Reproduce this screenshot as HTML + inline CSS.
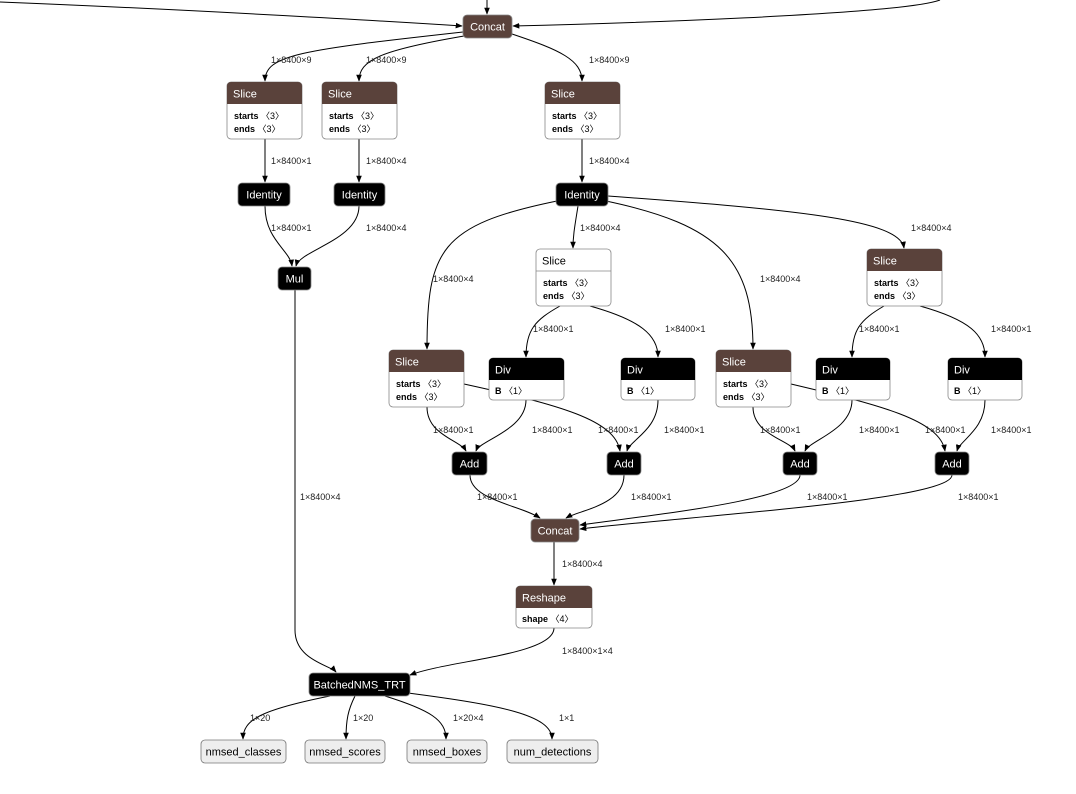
<!DOCTYPE html>
<html><head><meta charset="utf-8"><style>
body{margin:0;background:#fff}
svg{display:block}
.t{font-family:"Liberation Sans",sans-serif;font-size:11px;fill:#fff}
.l{font-family:"Liberation Sans",sans-serif;font-size:9px;fill:#222}
.a{font-family:"Liberation Sans",sans-serif;font-size:9px;fill:#000}
.e{fill:none;stroke:#000;stroke-width:1}
</style></head><body>
<svg width="1076" height="794" viewBox="0 0 1076 794" xmlns="http://www.w3.org/2000/svg">
<defs><marker id="ar" viewBox="0 0 10 10" refX="9" refY="5" markerWidth="7" markerHeight="7" orient="auto"><path d="M0,1 L10,5 L0,9 z" fill="#000"/></marker></defs>
<g class="e" marker-end="url(#ar)">
<path d="M0,2 C200,10 400,22 462,26"/>
<path d="M940,0 C900,15 600,24 513,26"/>
<path d="M487,0 L487,14"/>
<path d="M463,32 C300,50 265,55 265,81"/>
<path d="M470,35 C380,50 359,60 359,81"/>
<path d="M512,34 C560,50 582,60 582,81"/>
<path d="M265,139 L265,182"/>
<path d="M359,139 L359,182"/>
<path d="M582,139 L582,182"/>
<path d="M265,206 C265,240 290,250 292,266"/>
<path d="M359,206 C359,240 300,250 296,266"/>
<path d="M557,201 C440,225 427,250 427,349"/>
<path d="M578,206 C575,225 573,235 573,248"/>
<path d="M606,201 C720,225 753,260 753,349"/>
<path d="M608,196 C800,210 900,220 904,248"/>
<path d="M560,306 C535,320 526,330 526,357"/>
<path d="M590,306 C640,320 658,335 658,357"/>
<path d="M884,306 C860,320 852,330 852,357"/>
<path d="M920,306 C970,320 985,335 985,357"/>
<path d="M427,407 C427,435 460,440 466,451"/>
<path d="M464,384 C560,405 615,420 620,451"/>
<path d="M526,400 C526,430 480,440 476,451"/>
<path d="M658,400 C658,430 630,440 627,451"/>
<path d="M753,407 C753,435 790,440 795,451"/>
<path d="M791,384 C880,405 940,420 945,451"/>
<path d="M852,400 C852,430 810,440 805,451"/>
<path d="M985,400 C985,430 960,440 957,451"/>
<path d="M470,475 C470,500 520,505 540,518"/>
<path d="M624,475 C624,505 580,510 566,518"/>
<path d="M800,475 C800,500 650,515 580,525"/>
<path d="M952,475 C952,500 700,515 580,529"/>
<path d="M554,542 L554,585"/>
<path d="M295,290 L295,630 C295,660 330,665 336,672"/>
<path d="M554,628 C554,655 450,660 410,675"/>
<path d="M330,696 C260,710 243,720 243,739"/>
<path d="M355,696 C348,710 346,720 346,739"/>
<path d="M385,696 C430,710 446,720 446,739"/>
<path d="M408,693 C500,705 552,715 552,739"/>
</g>
<g class="l">
<text x="271" y="63">1×8400×9</text><text x="366" y="63">1×8400×9</text><text x="589" y="63">1×8400×9</text>
<text x="271" y="164">1×8400×1</text><text x="366" y="164">1×8400×4</text><text x="589" y="164">1×8400×4</text>
<text x="271" y="231">1×8400×1</text><text x="366" y="231">1×8400×4</text><text x="580" y="231">1×8400×4</text><text x="911" y="231">1×8400×4</text>
<text x="433" y="282">1×8400×4</text><text x="760" y="282">1×8400×4</text>
<text x="533" y="332">1×8400×1</text><text x="665" y="332">1×8400×1</text><text x="859" y="332">1×8400×1</text><text x="991" y="332">1×8400×1</text>
<text x="433" y="433">1×8400×1</text><text x="532" y="433">1×8400×1</text><text x="598" y="433">1×8400×1</text><text x="664" y="433">1×8400×1</text>
<text x="760" y="433">1×8400×1</text><text x="859" y="433">1×8400×1</text><text x="925" y="433">1×8400×1</text><text x="991" y="433">1×8400×1</text>
<text x="477" y="500">1×8400×1</text><text x="631" y="500">1×8400×1</text><text x="807" y="500">1×8400×1</text><text x="958" y="500">1×8400×1</text>
<text x="300" y="500">1×8400×4</text>
<text x="562" y="567">1×8400×4</text><text x="562" y="654">1×8400×1×4</text>
<text x="250" y="721">1×20</text><text x="353" y="721">1×20</text><text x="453" y="721">1×20×4</text><text x="559" y="721">1×1</text>
</g>
<!-- simple nodes -->
<g>
<rect x="463" y="15" width="49" height="23" rx="4" fill="#5a423b" stroke="#888" stroke-width=".8"/><text class="t" x="487.5" y="30.5" text-anchor="middle">Concat</text>
<rect x="238" y="183" width="52" height="23" rx="4" fill="#000" stroke="#888" stroke-width=".8"/><text class="t" x="264" y="198.5" text-anchor="middle">Identity</text>
<rect x="334" y="183" width="51" height="23" rx="4" fill="#000" stroke="#888" stroke-width=".8"/><text class="t" x="359.5" y="198.5" text-anchor="middle">Identity</text>
<rect x="556" y="183" width="52" height="23" rx="4" fill="#000" stroke="#888" stroke-width=".8"/><text class="t" x="582" y="198.5" text-anchor="middle">Identity</text>
<rect x="278" y="267" width="33" height="23" rx="4" fill="#000" stroke="#888" stroke-width=".8"/><text class="t" x="294.5" y="282.5" text-anchor="middle">Mul</text>
<rect x="452" y="452" width="35" height="23" rx="4" fill="#000" stroke="#888" stroke-width=".8"/><text class="t" x="469.5" y="467.5" text-anchor="middle">Add</text>
<rect x="607" y="452" width="34" height="23" rx="4" fill="#000" stroke="#888" stroke-width=".8"/><text class="t" x="624" y="467.5" text-anchor="middle">Add</text>
<rect x="783" y="452" width="34" height="23" rx="4" fill="#000" stroke="#888" stroke-width=".8"/><text class="t" x="800" y="467.5" text-anchor="middle">Add</text>
<rect x="935" y="452" width="34" height="23" rx="4" fill="#000" stroke="#888" stroke-width=".8"/><text class="t" x="952" y="467.5" text-anchor="middle">Add</text>
<rect x="531" y="519" width="48" height="23" rx="4" fill="#5a423b" stroke="#888" stroke-width=".8"/><text class="t" x="555" y="534.5" text-anchor="middle">Concat</text>
<rect x="309" y="673" width="101" height="23" rx="4" fill="#000" stroke="#888" stroke-width=".8"/><text class="t" x="359.5" y="688.5" text-anchor="middle">BatchedNMS_TRT</text>
</g>
<!-- outputs -->
<g>
<rect x="201" y="740" width="85" height="23" rx="4" fill="#eee" stroke="#777" stroke-width=".8"/><text class="t" style="fill:#000" x="243.5" y="755.5" text-anchor="middle">nmsed_classes</text>
<rect x="305" y="740" width="80" height="23" rx="4" fill="#eee" stroke="#777" stroke-width=".8"/><text class="t" style="fill:#000" x="345" y="755.5" text-anchor="middle">nmsed_scores</text>
<rect x="407" y="740" width="80" height="23" rx="4" fill="#eee" stroke="#777" stroke-width=".8"/><text class="t" style="fill:#000" x="447" y="755.5" text-anchor="middle">nmsed_boxes</text>
<rect x="507" y="740" width="91" height="23" rx="4" fill="#eee" stroke="#777" stroke-width=".8"/><text class="t" style="fill:#000" x="552.5" y="755.5" text-anchor="middle">num_detections</text>
</g>
<!-- slice nodes -->
<g id="slices">
<!-- template: x, y=header top -->
</g>
<g>
<g transform="translate(227,82)"><rect width="75" height="57" rx="4" fill="#fff" stroke="#888" stroke-width=".8"/><path d="M0,22 V4 a4,4 0 0 1 4,-4 H71 a4,4 0 0 1 4,4 V22 z" fill="#5a423b"/><text class="t" x="6" y="15.5">Slice</text><text class="a" x="7" y="37"><tspan font-weight="bold">starts</tspan> 〈3〉</text><text class="a" x="7" y="50"><tspan font-weight="bold">ends</tspan> 〈3〉</text></g>
<g transform="translate(322,82)"><rect width="75" height="57" rx="4" fill="#fff" stroke="#888" stroke-width=".8"/><path d="M0,22 V4 a4,4 0 0 1 4,-4 H71 a4,4 0 0 1 4,4 V22 z" fill="#5a423b"/><text class="t" x="6" y="15.5">Slice</text><text class="a" x="7" y="37"><tspan font-weight="bold">starts</tspan> 〈3〉</text><text class="a" x="7" y="50"><tspan font-weight="bold">ends</tspan> 〈3〉</text></g>
<g transform="translate(545,82)"><rect width="75" height="57" rx="4" fill="#fff" stroke="#888" stroke-width=".8"/><path d="M0,22 V4 a4,4 0 0 1 4,-4 H71 a4,4 0 0 1 4,4 V22 z" fill="#5a423b"/><text class="t" x="6" y="15.5">Slice</text><text class="a" x="7" y="37"><tspan font-weight="bold">starts</tspan> 〈3〉</text><text class="a" x="7" y="50"><tspan font-weight="bold">ends</tspan> 〈3〉</text></g>
<g transform="translate(536,249)"><rect width="75" height="57" rx="4" fill="#fff" stroke="#888" stroke-width=".8"/><line x1="0" y1="22" x2="75" y2="22" stroke="#888" stroke-width=".8"/><text class="t" style="fill:#000" x="6" y="15.5">Slice</text><text class="a" x="7" y="37"><tspan font-weight="bold">starts</tspan> 〈3〉</text><text class="a" x="7" y="50"><tspan font-weight="bold">ends</tspan> 〈3〉</text></g>
<g transform="translate(867,249)"><rect width="75" height="57" rx="4" fill="#fff" stroke="#888" stroke-width=".8"/><path d="M0,22 V4 a4,4 0 0 1 4,-4 H71 a4,4 0 0 1 4,4 V22 z" fill="#5a423b"/><text class="t" x="6" y="15.5">Slice</text><text class="a" x="7" y="37"><tspan font-weight="bold">starts</tspan> 〈3〉</text><text class="a" x="7" y="50"><tspan font-weight="bold">ends</tspan> 〈3〉</text></g>
<g transform="translate(389,350)"><rect width="75" height="57" rx="4" fill="#fff" stroke="#888" stroke-width=".8"/><path d="M0,22 V4 a4,4 0 0 1 4,-4 H71 a4,4 0 0 1 4,4 V22 z" fill="#5a423b"/><text class="t" x="6" y="15.5">Slice</text><text class="a" x="7" y="37"><tspan font-weight="bold">starts</tspan> 〈3〉</text><text class="a" x="7" y="50"><tspan font-weight="bold">ends</tspan> 〈3〉</text></g>
<g transform="translate(716,350)"><rect width="75" height="57" rx="4" fill="#fff" stroke="#888" stroke-width=".8"/><path d="M0,22 V4 a4,4 0 0 1 4,-4 H71 a4,4 0 0 1 4,4 V22 z" fill="#5a423b"/><text class="t" x="6" y="15.5">Slice</text><text class="a" x="7" y="37"><tspan font-weight="bold">starts</tspan> 〈3〉</text><text class="a" x="7" y="50"><tspan font-weight="bold">ends</tspan> 〈3〉</text></g>
<!-- Div -->
<g transform="translate(489,358)"><rect width="75" height="42" rx="4" fill="#fff" stroke="#888" stroke-width=".8"/><path d="M0,22 V4 a4,4 0 0 1 4,-4 H71 a4,4 0 0 1 4,4 V22 z" fill="#000"/><text class="t" x="6" y="15.5">Div</text><text class="a" x="6" y="36"><tspan font-weight="bold">B</tspan> 〈1〉</text></g>
<g transform="translate(621,358)"><rect width="74" height="42" rx="4" fill="#fff" stroke="#888" stroke-width=".8"/><path d="M0,22 V4 a4,4 0 0 1 4,-4 H70 a4,4 0 0 1 4,4 V22 z" fill="#000"/><text class="t" x="6" y="15.5">Div</text><text class="a" x="6" y="36"><tspan font-weight="bold">B</tspan> 〈1〉</text></g>
<g transform="translate(816,358)"><rect width="74" height="42" rx="4" fill="#fff" stroke="#888" stroke-width=".8"/><path d="M0,22 V4 a4,4 0 0 1 4,-4 H70 a4,4 0 0 1 4,4 V22 z" fill="#000"/><text class="t" x="6" y="15.5">Div</text><text class="a" x="6" y="36"><tspan font-weight="bold">B</tspan> 〈1〉</text></g>
<g transform="translate(948,358)"><rect width="74" height="42" rx="4" fill="#fff" stroke="#888" stroke-width=".8"/><path d="M0,22 V4 a4,4 0 0 1 4,-4 H70 a4,4 0 0 1 4,4 V22 z" fill="#000"/><text class="t" x="6" y="15.5">Div</text><text class="a" x="6" y="36"><tspan font-weight="bold">B</tspan> 〈1〉</text></g>
<!-- Reshape -->
<g transform="translate(516,586)"><rect width="76" height="42" rx="4" fill="#fff" stroke="#888" stroke-width=".8"/><path d="M0,22 V4 a4,4 0 0 1 4,-4 H72 a4,4 0 0 1 4,4 V22 z" fill="#5a423b"/><text class="t" x="6" y="15.5">Reshape</text><text class="a" x="6" y="36"><tspan font-weight="bold">shape</tspan> 〈4〉</text></g>
</g>
</svg>
</body></html>
